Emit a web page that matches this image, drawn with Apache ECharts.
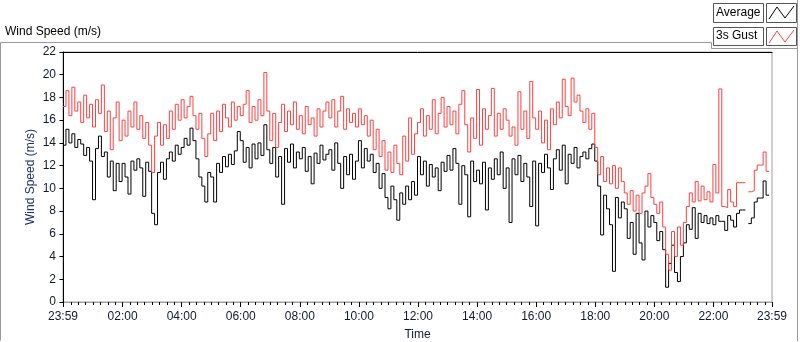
<!DOCTYPE html>
<html>
<head>
<meta charset="utf-8">
<script src="https://cdn.jsdelivr.net/npm/echarts@6/dist/echarts.min.js"></script>
<style>
  html, body { margin: 0; padding: 0; background: #fff; }
  #chart { width: 800px; height: 342px; }
</style>
</head>
<body>
<div id="chart"></div>
<script>
// samples every 6 minutes, starting 23:59 (minute -1 of the day)
const START_MIN = -1;
const STEP_MIN = 6;

// Average wind speed (m/s), 10 samples per hour
const avgSpeed = [
  13.8, 15.2, 14.0, 14.8, 13.6, 14.3, 13.9, 12.9, 13.6, 12.4,
  9.0, 13.5, 14.6, 12.8, 13.2, 11.0, 12.4, 9.8, 12.2, 10.6,
  12.2, 11.0, 9.5, 12.4, 11.6, 12.6, 11.8, 9.3, 12.3, 11.5,
  7.8, 6.8, 11.4, 12.3, 10.8, 12.6, 13.2, 12.4, 13.8, 13.0,
  13.6, 14.4, 13.8, 15.3, 14.2, 12.6, 11.0, 10.2, 8.8, 11.4,
  11.0, 8.8, 12.2, 11.4, 12.8, 11.9, 13.0, 12.1, 13.3, 15.0,
  14.2, 12.3, 13.6, 11.8, 13.9, 12.6, 14.0, 12.9, 15.6, 13.4,
  12.2, 13.6, 11.0, 12.8, 8.6, 13.5, 12.3, 13.9, 11.8, 13.2,
  12.6, 13.6, 11.5, 12.8, 10.4, 13.1, 12.2, 13.8, 12.5, 13.0,
  13.4, 11.6, 14.0, 12.2, 10.0, 12.8, 11.2, 13.0, 10.8, 12.4,
  14.2, 11.8, 13.5, 12.4, 13.0, 11.4, 12.2, 10.0, 11.3, 9.2,
  8.2, 10.2, 9.0, 7.2, 9.6, 8.6, 10.2, 9.0, 10.6, 9.4,
  12.8, 11.2, 12.4, 10.2, 12.1, 11.0, 11.8, 9.8, 12.3, 11.5,
  12.9, 11.6, 13.5, 12.2, 8.6, 12.0, 11.2, 7.5, 12.4, 10.6,
  11.6, 10.4, 12.3, 8.1, 11.8, 10.8, 12.6, 11.2, 13.2, 10.0,
  11.8, 7.0, 12.6, 11.2, 12.9, 10.6, 12.2, 11.0, 8.4, 12.4,
  6.7, 12.2, 11.4, 13.0, 11.8, 9.9, 12.6, 13.4, 11.6, 13.8,
  10.4, 13.0, 12.2, 13.6, 11.8, 12.8, 13.2, 12.6, 13.5, 13.9,
  12.4, 10.2, 5.9, 9.4, 8.2, 6.8, 2.7, 9.2, 7.4, 8.8,
  8.2, 5.6, 7.0, 4.2, 7.8, 5.2, 3.7, 8.0, 6.6, 7.6,
  7.0, 5.4, 6.2, 4.6, 1.3, 3.4, 5.0, 2.6, 1.8, 4.0,
  5.2, 6.8, 6.4, 8.3, 5.6, 7.8, 7.0, 7.6, 6.9, 7.4,
  6.8, 7.6, 7.1, 7.1, 6.3, 7.6, 7.2, 6.6, 7.8, 8.1,
  8.1, null, 6.9, 7.4, 8.8, 9.15, 9.15, 10.65, 9.4, 9.4
];

// 3 second gust (m/s)
const gustSpeed = [
  17.2, 18.6, 16.4, 18.9, 16.8, 17.6, 15.8, 18.2, 16.2, 17.4,
  15.4, 17.8, 16.6, 19.1, 15.0, 16.8, 13.4, 16.2, 17.6, 14.2,
  16.0, 14.6, 16.8, 15.4, 17.6, 15.2, 16.4, 14.4, 15.8, 13.8,
  11.4, 14.6, 15.8, 13.8, 15.6, 14.4, 16.8, 15.2, 17.4, 16.0,
  17.8, 16.2, 17.2, 18.1, 16.4, 15.2, 16.6, 14.4, 12.8, 14.8,
  16.6, 14.2, 16.8, 15.0, 17.4, 16.2, 15.4, 17.6, 16.0, 17.2,
  16.4, 17.4, 18.6, 15.8, 17.2, 16.0, 17.8, 16.4, 20.2, 16.8,
  14.2, 16.6, 13.6, 15.8, 17.4, 15.0, 16.8, 15.6, 17.6, 15.2,
  16.4, 14.8, 17.2, 15.6, 16.2, 14.6, 17.0, 15.4, 16.8, 17.6,
  16.2, 17.8, 15.4, 16.8, 18.1, 15.2, 17.0, 15.8, 16.6, 15.4,
  17.0, 15.6, 16.4, 14.6, 16.0, 13.4, 15.2, 12.8, 14.2, 11.6,
  13.2, 11.4, 13.8, 12.2, 11.2, 14.6, 12.4, 16.2, 13.0, 14.8,
  15.8, 17.0, 14.6, 16.4, 15.2, 17.8, 14.8, 16.6, 18.0, 15.4,
  17.2, 15.6, 16.8, 14.8, 17.4, 18.6, 15.6, 13.2, 16.2, 14.4,
  18.7, 13.8, 17.0, 15.2, 16.4, 18.8, 14.6, 16.6, 15.2, 17.0,
  16.0, 14.6, 15.4, 13.8, 18.5, 15.2, 16.8, 14.4, 19.4, 16.2,
  15.2, 16.8, 14.0, 16.0, 13.4, 17.0, 15.6, 17.6, 16.2, 19.6,
  17.2, 16.4, 19.7, 17.6, 18.2, 16.8, 15.8, 17.0, 15.2, 16.6,
  13.6, 11.2, 12.8, 10.6, 11.8, 10.4, 12.0, 10.0, 11.8, 10.6,
  9.6, 8.6, 9.8, 8.0, 9.4, 7.8, 9.6, 10.2, 11.3, 9.2,
  8.6, 7.8, 8.8, 6.6, 4.2, 2.8, 6.2, 4.0, 6.6, 5.0,
  7.0, 8.4, 9.6, 8.8, 10.6, 8.9, 10.2, 9.0, 9.7, 8.8,
  12.1, 9.6, 18.75, 8.4, 8.3, 9.9, 8.8, 8.4, 10.5, 10.5,
  10.5, null, 9.7, 9.8, 11.6, 12.05, 12.05, 13.2, 11.5, 11.5
];

// tick positions in minutes of the day
const labelTicks = [-1, 120, 240, 360, 480, 600, 720, 840, 960, 1080, 1200, 1320, 1439];
const minorTicks = [-1];
for (let m = 15; m < 1439; m += 15) minorTicks.push(m);
minorTicks.push(1439);

const seriesNames = ['Average', '3s Gust'];
const seriesColors = ['#000000', '#ff4040'];

const FONT = 'Liberation Sans';
const TEXT_COLOR = '#111a33';

function toPoints(vals) {
  return vals.map((v, i) => [START_MIN + i * STEP_MIN, v]);
}

function fmtTime(v) {
  if (v < 0 || v >= 1439) return '23:59';
  const h = Math.floor(v / 60), m = v % 60;
  return (h < 10 ? '0' : '') + h + ':' + (m < 10 ? '0' : '') + m;
}

const chart = echarts.init(document.getElementById('chart'), null, {renderer: 'canvas'});

const baseX = {type: 'value', min: -1, max: 1439, gridIndex: 0, splitLine: {show: false}};

chart.setOption({
  animation: false,
  backgroundColor: '#ffffff',
  textStyle: {fontFamily: FONT},
  grid: {
    left: 63, right: 28, top: 52, bottom: 40,
    outerBoundsMode: 'none',
    show: true, borderColor: '#a0a0a0', borderWidth: 1, backgroundColor: '#ffffff'
  },
  xAxis: [
    Object.assign({}, baseX, {
      position: 'bottom',
      name: 'Time',
      nameLocation: 'middle',
      nameGap: 27,
      nameTextStyle: {fontFamily: FONT, fontSize: 12, color: TEXT_COLOR},
      axisLine: {show: true, lineStyle: {color: '#a0a0a0', width: 1}},
      axisTick: {show: true, customValues: minorTicks, length: 3, lineStyle: {color: '#000'}},
      axisLabel: {customValues: labelTicks, formatter: fmtTime, margin: 9, fontFamily: FONT, fontSize: 12, color: TEXT_COLOR}
    }),
    Object.assign({}, baseX, {
      position: 'bottom',
      axisLine: {show: false},
      axisTick: {show: true, customValues: labelTicks, length: 5, lineStyle: {color: '#000'}},
      axisLabel: {show: false}
    }),
    Object.assign({}, baseX, {
      position: 'top',
      axisLine: {show: true, lineStyle: {color: '#000', width: 1}},
      axisTick: {show: false},
      axisLabel: {show: false}
    })
  ],
  yAxis: {
    type: 'value',
    min: 0,
    max: 22,
    interval: 2,
    name: 'Wind Speed (m/s)',
    nameLocation: 'middle',
    nameGap: 26,
    nameMoveOverlap: false,
    nameRotate: 90,
    nameTextStyle: {fontFamily: FONT, fontSize: 12, color: '#1c2f66'},
    splitLine: {show: false},
    axisLine: {show: true, lineStyle: {color: '#000', width: 1}},
    axisTick: {show: true, length: 4, lineStyle: {color: '#000'}},
    axisLabel: {margin: 7, fontFamily: FONT, fontSize: 12, color: TEXT_COLOR}
  },
  series: [
    {
      name: seriesNames[0],
      type: 'line',
      xAxisIndex: 0,
      step: 'end',
      showSymbol: false,
      connectNulls: false,
      sampling: null,
      lineStyle: {color: seriesColors[0], width: 1},
      itemStyle: {color: seriesColors[0]},
      data: toPoints(avgSpeed)
    },
    {
      name: seriesNames[1],
      type: 'line',
      xAxisIndex: 0,
      step: 'end',
      showSymbol: false,
      connectNulls: false,
      sampling: null,
      lineStyle: {color: seriesColors[1], width: 1},
      itemStyle: {color: seriesColors[1]},
      data: toPoints(gustSpeed)
    }
  ],
  graphic: [
    // panel frame
    {type: 'polyline', silent: true, shape: {points: [[0.5, 340.5], [0.5, 42.5], [711.5, 42.5], [711.5, 48.5], [797.5, 48.5]]},
      style: {stroke: '#9a9a9a', fill: null, lineWidth: 1}},
    {type: 'line', silent: true, shape: {x1: 797.5, y1: 0, x2: 797.5, y2: 341}, style: {stroke: '#9a9a9a', lineWidth: 1}},
    {type: 'text', left: 5, top: 26, style: {text: 'Wind Speed (m/s)', font: '12px "' + FONT + '"', fill: '#000'}},
    // legend: Average
    {type: 'rect', silent: true, shape: {x: 713.5, y: 3.5, width: 50, height: 19}, style: {fill: '#fff', stroke: '#555', lineWidth: 1}},
    {type: 'text', left: 716, top: 7, style: {text: seriesNames[0], font: '12px "' + FONT + '"', fill: '#000'}},
    {type: 'rect', silent: true, shape: {x: 766.5, y: 3.5, width: 30, height: 19}, style: {fill: '#fff', stroke: '#555', lineWidth: 1}},
    {type: 'polyline', silent: true, shape: {points: [[769, 19], [777, 7], [785, 18], [794, 6]]}, style: {stroke: seriesColors[0], fill: null, lineWidth: 1}},
    // legend: 3s Gust
    {type: 'rect', silent: true, shape: {x: 713.5, y: 27.5, width: 50, height: 18}, style: {fill: '#fff', stroke: '#555', lineWidth: 1}},
    {type: 'text', left: 716, top: 30, style: {text: seriesNames[1], font: '12px "' + FONT + '"', fill: '#000'}},
    {type: 'rect', silent: true, shape: {x: 766.5, y: 27.5, width: 30, height: 18}, style: {fill: '#fff', stroke: '#555', lineWidth: 1}},
    {type: 'polyline', silent: true, shape: {points: [[769, 43], [777, 31], [785, 42], [794, 30]]}, style: {stroke: seriesColors[1], fill: null, lineWidth: 1}}
  ]
});
</script>
</body>
</html>
